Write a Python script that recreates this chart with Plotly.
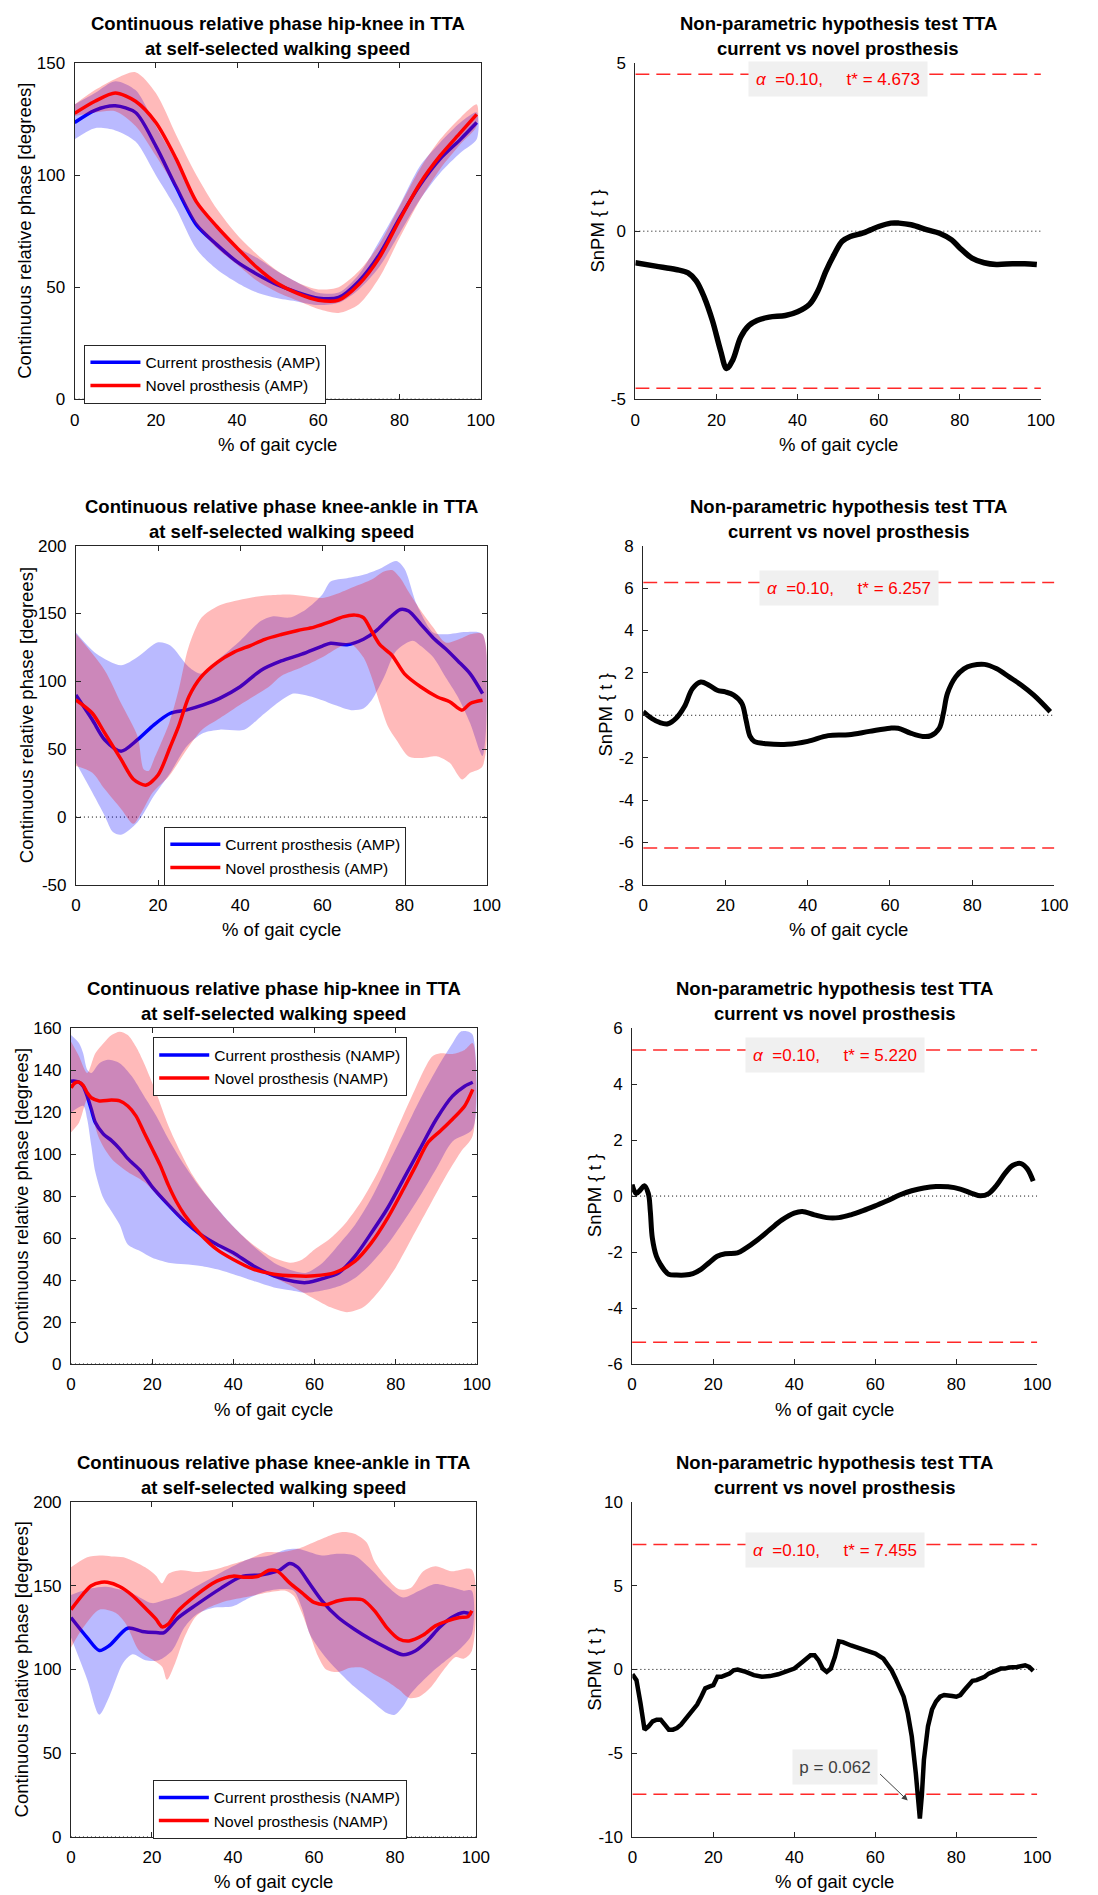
import plotly.graph_objects as go

# ---------------- data ----------------
X_TICKS = [0, 20, 40, 60, 80, 100]

# panel 1: hip-knee CRP, amputated side
P1_X = [0, 5, 10, 15, 20, 25, 30, 35, 40, 45, 50, 55, 60, 65, 70, 75, 80, 85, 90, 95, 99]
P1_CUR = [123.5, 129, 131, 128, 113, 94.7, 77.8, 69, 61.3, 55.7, 51, 47.6, 45.1, 45.4, 52.7, 64.5, 80.7, 95.5, 107.3, 116, 123.5]
P1_NOV = [127.6, 133, 136.7, 133, 123.5, 107.3, 88.1, 77.1, 67.5, 58.6, 51.6, 47.1, 44.2, 44.2, 51.3, 63.1, 80, 96.2, 108.7, 119, 127.2]
P1_CUR_HI = [131.6, 136.7, 142, 138, 122, 106, 88, 77, 68, 63, 57, 52, 47.5, 47.6, 55.7, 70.5, 86.6, 104, 114.6, 123.5, 128]
P1_CUR_LO = [116, 121, 120, 115, 100, 85, 67, 58, 52, 47.5, 45, 43.5, 42, 43, 49, 59, 74, 89, 101, 110, 116]
P1_NOV_HI = [131.6, 138, 143, 146, 136.7, 118, 100, 85, 73.4, 64.5, 57.2, 52, 49, 50, 57.2, 69, 86, 102.8, 116, 125.7, 131.6]
P1_NOV_LO = [126.4, 128, 128.6, 122, 108.7, 94, 77.8, 67.5, 60.1, 52.7, 47.6, 43.9, 40.2, 38.5, 42.4, 54.2, 71.9, 88.8, 102.8, 113.9, 122]
P1_YTICKS = [0, 50, 100, 150]

# panel 2: SnPM hip-knee AMP
P2_X = [0, 5, 10, 13, 15, 17, 19, 21, 22.5, 24, 26, 28, 30, 33, 37, 40, 43, 45, 47, 49, 51, 53, 56, 58, 60,
        63, 65, 68, 72, 75, 78, 80, 83, 86, 89, 93, 96, 99]
P2_T = [-0.94, -1.04, -1.14, -1.24, -1.48, -1.97, -2.66, -3.55, -4.09, -3.84, -3.15, -2.81, -2.66,
        -2.56, -2.51, -2.40, -2.17, -1.78, -1.19, -0.70, -0.30, -0.16, -0.06, 0.04, 0.14,
        0.24, 0.24, 0.19, 0.04, -0.06, -0.26, -0.50, -0.80, -0.94, -0.99, -0.97, -0.97, -0.99]
P2_TSTAR = 4.673
P2_YTICKS = [-5, 0, 5]

# panel 3: knee-ankle CRP, amputated side
P3_CUR_X = [0, 4, 7, 11, 15, 19, 23, 27, 31, 35, 40, 45, 50, 55, 60, 62, 66, 70, 73, 76, 79, 81, 84, 87, 90, 93, 96, 99]
P3_CUR = [90, 71.7, 57, 48.5, 57, 68, 76.5, 79, 82.6, 87.5, 96, 108, 115, 120, 126, 128, 127, 131, 137, 145.7,
          153, 151.8, 142, 132, 124, 115, 105.5, 91]
P3_NOV_X = [0, 4, 7, 11, 14, 17, 20, 23, 25, 27.5, 30.5, 34.5, 38.5, 42.5, 46, 50, 54, 58, 62, 65, 68, 70, 72, 74,
            77, 80, 84, 88, 91, 94, 96, 99]
P3_NOV = [86.3, 76.5, 62, 42.5, 27.9, 23.5, 31, 52, 66.8, 88.7, 103.3, 114.2, 121.5, 126.4, 131, 134.5, 137.5,
          140, 144, 147.5, 148.8, 147, 137, 127, 119, 105.5, 95.8, 88.5, 85, 78.8, 83.7, 86]
P3_CUR_HI_X = [0, 5, 11, 15, 20, 23, 27.5, 30.5, 35, 40, 45, 48, 52, 56, 60, 62, 66, 70, 74, 78, 80, 83, 87, 90, 95, 99]
P3_CUR_HI = [136, 120.3, 111.8, 117.9, 128.8, 126.4, 110.6, 105.7, 117, 130, 144.5, 148, 147, 153, 164, 173.6,
             176, 178.5, 183, 188.7, 183, 156.6, 136, 134.7, 136.4, 134.7]
P3_CUR_LO_X = [0, 4, 7, 9, 11, 15, 19, 23, 27, 31, 35, 41, 45, 50, 53, 56, 60, 63, 67, 70, 72, 75, 78, 82, 84, 87,
               90, 93, 96, 99]
P3_CUR_LO = [40, 18.1, 1, -11, -13, -3.8, 15.7, 32.7, 52.2, 61.9, 64.4, 64.4, 74, 86, 91, 89.7, 86, 82.5, 78.8,
             80, 86, 103, 122.6, 130, 126, 117.7, 103, 88.5, 69, 45]
P3_NOV_HI_X = [0, 7, 11, 15, 16.5, 17.7, 19, 22.7, 25, 27.4, 30.6, 34.6, 38.6, 42.5, 47, 52, 56, 60, 64, 68, 72,
               75, 77, 79, 81, 84, 87, 90, 94, 96, 99]
P3_NOV_HI = [135, 108.2, 83.8, 59.5, 35.2, 34, 42.5, 69.2, 93.6, 125, 147, 155.6, 159.2, 161.7, 163.4, 164,
             162.7, 161.5, 165, 170, 175, 181, 182, 176, 166, 152, 139.6, 128.6, 132, 134.7, 134.7]
P3_NOV_LO_X = [0, 4, 7, 11, 14, 16, 18.7, 22.7, 27, 30.6, 34.6, 38.6, 42.5, 47, 50, 55, 60, 64, 67, 70, 72, 74,
               76, 78, 81, 84, 88, 91, 94, 96, 99]
P3_NOV_LO = [37.6, 32.7, 20.6, 6, -5, 3.5, 18.1, 30.3, 49.8, 64, 72, 80, 87.5, 96, 104, 110.4, 117.7, 125,
             127.4, 117.7, 103, 83.7, 66.6, 57, 44.7, 43.5, 44.7, 40, 27.7, 32.6, 37.5]
P3_YTICKS = [-50, 0, 50, 100, 150, 200]

# panel 4: SnPM knee-ankle AMP
P4_X = [0, 2, 4, 6, 8, 10, 12, 14, 16, 18, 20, 22, 24, 25, 26, 27, 30, 35, 40, 45, 50, 55, 60, 62, 65, 68,
        70, 72, 73, 74, 76, 78, 80, 83, 86, 89, 92, 95, 99]
P4_T = [0.17, -0.14, -0.34, -0.40, -0.14, 0.40, 1.26, 1.57, 1.42, 1.18, 1.10, 0.95, 0.56, -0.22, -1.0, -1.23,
        -1.34, -1.37, -1.23, -0.96, -0.92, -0.76, -0.61, -0.61, -0.84, -1.0, -0.96, -0.61,
        0.09, 1.03, 1.81, 2.19, 2.35, 2.40, 2.19, 1.81, 1.42, 0.95, 0.17]
P4_TSTAR = 6.257
P4_YTICKS = [-8, -6, -4, -2, 0, 2, 4, 6, 8]

# panel 5: hip-knee CRP, non-amputated side
P5_CUR_X = [0, 1, 2, 3, 4, 5, 6, 8, 10, 12, 14, 17, 20, 24, 28, 32, 36, 40, 45, 50, 55, 58, 62, 66, 70, 74,
            78, 82, 86, 90, 94, 97, 99]
P5_CUR = [134.7, 134.7, 134.2, 132.3, 127.6, 121.3, 115, 109.5, 106.4, 102.5, 97.8, 92.3, 84.4, 75.8, 67.9,
          61.6, 56.9, 53, 46.7, 42, 39.3, 38.8, 40.7, 43.5, 51.4, 62.4, 74.2, 88.3, 102.5, 116.6, 127.6, 132.3, 134.2]
P5_NOV_X = [0, 1, 2, 3, 4, 5, 7, 10, 12, 14, 16, 18, 20, 22, 24, 26, 28, 32, 36, 40, 45, 50, 55, 60, 65, 70,
            74, 78, 82, 85, 88, 91, 94, 97, 99]
P5_NOV = [131.5, 133.9, 134.2, 132.7, 129.2, 126.8, 125.3, 125.7, 125.3, 122.9, 118.2, 110.3, 102.5, 94.6,
          85.2, 77.3, 71, 61.6, 54.5, 49.8, 45.1, 42.8, 42, 42, 43.5, 49, 57.7, 69.5, 83.6, 94.6, 105.6, 111,
          116.6, 122.9, 130.8]
P5_CUR_HI_X = [0, 2, 3, 4, 5, 7, 9, 12, 15, 18, 21, 24, 28, 32, 36, 40, 45, 50, 55, 58, 62, 66, 70, 74, 78, 82,
               86, 90, 94, 96, 98, 99]
P5_CUR_HI = [156.7, 152.8, 148, 140.2, 138.6, 143.3, 144.9, 143.3, 137, 127.6, 118.2, 107.2, 94.6, 83.6, 74.2,
             65.5, 56.1, 48.3, 44.3, 43.5, 48.3, 56.9, 66.3, 78.9, 94.6, 110.3, 126, 140.2, 152.8, 158.3, 158.3, 156.7]
P5_CUR_LO_X = [0, 3, 4, 5, 6, 8, 10, 12, 14, 17, 20, 24, 28, 32, 36, 40, 45, 50, 54, 58, 62, 66, 70, 74, 78, 82,
               86, 90, 94, 99]
P5_CUR_LO = [119.8, 123, 116.6, 104, 91.5, 78.9, 72.6, 66.3, 56.9, 53.8, 50.6, 48.3, 47.5, 46.7, 45.1, 42.8,
             39.6, 36.5, 35.2, 34, 35, 37, 41, 48, 57, 68, 80, 93, 106, 112]
P5_NOV_HI_X = [0, 2, 4, 6, 8, 10, 12, 14, 16, 18, 21, 24, 27, 30, 34, 38, 42, 46, 50, 54, 57, 60, 64, 68, 72,
               76, 80, 84, 87, 89, 91, 94, 97, 99]
P5_NOV_HI = [153.6, 146.5, 138.6, 148, 152.8, 156.7, 158.3, 156.7, 151.2, 143.3, 129.2, 113.5, 100.9, 89.9,
             78.9, 69.5, 61.6, 55.3, 50.6, 48.3, 49.8, 54.5, 60, 67.9, 78.9, 93, 110.3, 127.6, 140.2, 146.5,
             148, 147.7, 149.6, 152.8]
P5_NOV_LO_X = [0, 2, 4, 5, 7, 10, 14, 18, 22, 26, 30, 34, 38, 42, 46, 50, 55, 60, 64, 68, 72, 76, 80, 84, 88,
               92, 96, 99]
P5_NOV_LO = [110.3, 115, 126, 119.8, 107.2, 97.8, 91.5, 86.8, 78.9, 71, 64, 58.5, 53.8, 48.9, 45.1, 41.2,
             36.5, 31, 27, 24.7, 27, 34.9, 45.9, 60, 74.2, 88.3, 100.9, 108.8]
P5_YTICKS = [0, 20, 40, 60, 80, 100, 120, 140, 160]

# panel 6: SnPM hip-knee NAMP
P6_X = [0, 1, 2, 3, 4, 4.5, 5, 6, 7, 8, 9, 11, 13, 15, 17, 19, 21, 23, 26, 28, 31, 34, 37, 40, 42,
        45, 48, 51, 54, 57, 60, 63, 66, 69, 72, 75, 78, 81, 84, 86, 88, 90, 92, 94, 96, 97.5, 99]
P6_T = [0.41, 0.09, 0.21, 0.37, 0.09, -0.55, -1.50, -2.15, -2.44, -2.65, -2.79, -2.82, -2.82, -2.77, -2.62,
        -2.38, -2.15, -2.06, -2.03, -1.87, -1.56, -1.20, -0.85, -0.61, -0.55, -0.67, -0.77, -0.77, -0.67,
        -0.52, -0.35, -0.17, 0.04, 0.19, 0.29, 0.34, 0.33, 0.25, 0.09, 0.01, 0.09, 0.39, 0.80, 1.10, 1.16,
        0.98, 0.53]
P6_TSTAR = 5.220
P6_YTICKS = [-6, -4, -2, 0, 2, 4, 6]

# panel 7: knee-ankle CRP, non-amputated side
P7_CUR_X = [0, 4, 7, 9.5, 14, 17.6, 21, 23, 26.5, 31, 37, 42, 47.5, 51.5, 54, 56, 59, 62, 66, 70, 74, 78, 82,
            85, 88, 91, 94, 97, 99]
P7_CUR = [131, 119, 111.3, 114.3, 124.6, 122.7, 122, 122, 130.9, 138.7, 148.4, 155.3, 156.6, 159.2, 163.3,
          161, 151, 141, 131, 124, 118, 112.9, 108.8, 111, 117, 125, 131, 134, 133]
P7_NOV_X = [0, 3, 5, 7.5, 9, 12, 15, 19, 21, 22.5, 24, 26, 31, 36, 40, 43, 46, 49, 51, 54, 57, 60, 63, 66, 69,
            72, 75, 78, 81, 83.5, 87, 90, 93, 96, 98, 99]
P7_NOV = [135.7, 145, 150, 152, 152, 149.5, 144.5, 135, 130, 125.4, 127, 133.8, 144.5, 152.7, 155.7, 155,
          155.5, 159.2, 158.6, 151.7, 145.8, 140, 138.7, 141, 142, 141.6, 135, 125, 118.2, 117, 120.5, 126,
          129, 131, 131.4, 135]
P7_CUR_HI_X = [0, 5, 8.7, 15, 20, 23.3, 27, 33, 39.5, 44, 49, 53, 56, 59, 62, 66, 70, 74, 78, 82, 86, 90, 94, 97, 99]
P7_CUR_HI = [144.5, 148.4, 149.4, 145.5, 139.6, 141.6, 144.5, 152.3, 161, 166, 168, 171.5, 172, 170, 168, 169,
             168, 160, 150, 143, 147, 151, 149, 147, 147]
P7_CUR_LO_X = [0, 4, 7, 9.5, 12.8, 15.2, 18.4, 21.7, 25, 28, 31, 35, 40, 44, 48, 52, 55, 57, 59, 62, 65, 70, 74,
               78, 80, 82, 84, 89, 93, 96, 99]
P7_CUR_LO = [119, 94, 73, 84, 103.5, 109, 105.5, 105.5, 111.3, 125, 132.8, 136.7, 137.7, 142.6, 146.5, 148, 147,
             137, 121, 110, 101.5, 89.6, 81.7, 73.9, 72.9, 77.8, 85.7, 98, 106, 112, 121]
P7_NOV_HI_X = [0, 4, 7, 10, 13, 16, 19, 21, 22.5, 24, 27, 31, 36, 40, 44, 48, 52, 56, 60, 64, 67, 70, 73, 75, 78,
               81, 84, 87, 90, 94, 99]
P7_NOV_HI = [161, 167, 168, 167.5, 167, 164, 160, 156, 151.4, 157, 159.2, 158.2, 160, 163, 166, 170, 170, 172,
             176, 180, 182, 181, 176, 164.5, 154.7, 147.8, 148.8, 158.6, 161.6, 158.6, 159.6]
P7_NOV_LO_X = [0, 3, 7, 11, 13.6, 16.8, 20, 22.5, 23.7, 25.7, 28, 30.6, 33, 37.9, 44, 50, 53, 55, 57, 59, 61, 63,
               66, 69, 72, 75, 78, 81, 83.5, 86, 89, 92, 95, 97, 99]
P7_NOV_LO = [113, 125, 135.7, 133.8, 127, 111.3, 106, 101.6, 93.8, 103.5, 119, 130.9, 135.7, 140.6, 143.6,
             146.5, 147, 144, 134, 121, 108, 100, 98.5, 101, 101, 97, 93, 88, 83, 83.7, 89.7, 99.5, 107.4,
             106.4, 111]
P7_YTICKS = [0, 50, 100, 150, 200]

# panel 8: SnPM knee-ankle NAMP
P8_X = [0, 1, 2, 3, 4, 5, 6, 7, 8, 9, 10, 11, 12, 13, 14, 15, 16, 17, 18, 19, 20, 21, 22, 23, 24, 25, 26,
        28, 30, 32, 34, 36, 38, 40, 42, 43, 44, 45, 46, 47, 48, 49, 50, 51, 52, 54, 56, 58, 60, 62,
        63, 64, 65, 66, 67, 68, 69, 70, 70.5, 71, 71.5, 72, 73, 74, 75, 76, 77, 78, 79, 80, 81, 82, 83,
        84, 85, 86, 87, 88, 89, 90, 91, 92, 93, 95, 96, 97, 98, 99]
P8_T = [-0.29, -0.64, -2.02, -3.6, -3.4, -3.1, -3.0, -3.0, -3.3, -3.6, -3.6, -3.5, -3.3, -3.0, -2.7, -2.5,
        -2.1, -1.63, -1.13, -1.03, -0.94, -0.44, -0.44, -0.34, -0.25, -0.05, -0.01,
        -0.15, -0.34, -0.44, -0.40, -0.29, -0.15, 0.05,
        0.44, 0.64, 0.84, 0.84, 0.54, 0.05, -0.15, 0.05, 0.74, 1.68, 1.63,
        1.43, 1.27, 1.09, 0.94, 0.64,
        0.34, -0.05, -0.54, -1.03, -1.63, -2.6, -4.0, -6.2,
        -7.9, -8.9, -7.5, -5.4,
        -3.4, -2.4, -1.92, -1.63, -1.53, -1.53, -1.59, -1.63, -1.53, -1.23, -0.94, -0.68, -0.64, -0.54,
        -0.44, -0.25, -0.15, -0.05, 0.05, 0.05, 0.11,
        0.15, 0.19, 0.25, 0.15, -0.09]
P8_TSTAR = 7.455
P8_PVALUE = 0.062
P8_YTICKS = [-10, -5, 0, 5, 10]

ALPHA = 0.10

# ---------------- style ----------------
W, H = 1098, 1895
FONT = "Liberation Sans, Arial, Helvetica, sans-serif"
AXIS_COLOR = "#262626"
BLUE = "rgb(0,0,255)"
RED = "rgb(255,0,0)"
BLUE_FILL = "rgba(0,0,255,0.27)"
RED_FILL = "rgba(255,0,0,0.27)"
TICK_SIZE = 17
LABEL_SIZE = 18.5
TITLE_SIZE = 18.5

# axes boxes in pixels: left, right, top, bottom
BOXES = {
    1: (62.7, 476, 46.7, 386),
    2: (633.3, 1046, 46.7, 386),
    3: (64, 482, 534, 876.7),
    4: (641.3, 1059.7, 534, 876.7),
    5: (59, 472, 1021.3, 1360.7),
    6: (630, 1042.3, 1021.3, 1360.7),
    7: (59, 471, 1500, 1838.3),
    8: (630.3, 1042.3, 1500, 1838.3),
}

TITLE_HIP = ("Continuous relative phase hip-knee in TTA", "at self-selected walking speed")
TITLE_KNEE = ("Continuous relative phase knee-ankle in TTA", "at self-selected walking speed")
TITLE_SPM = ("Non-parametric hypothesis test TTA", "current vs novel prosthesis")

fig = go.Figure()
annotations = []


def sfx(n):
    return "" if n == 1 else str(n)


def setup_axes(n, yrange, yticks, boxed):
    left, right, top, bottom = BOXES[n]
    common = dict(
        showline=True, linecolor=AXIS_COLOR, linewidth=1,
        ticks="inside", ticklen=5, tickcolor=AXIS_COLOR,
        mirror="ticks" if boxed else False,
        showgrid=False, zeroline=False,
        tickfont=dict(size=TICK_SIZE, color="black", family=FONT),
    )
    fig.update_layout(**{
        "xaxis" + sfx(n): dict(
            domain=[left / W, right / W], anchor="y" + sfx(n), range=[0, 100],
            tickvals=X_TICKS, ticktext=[str(v) for v in X_TICKS], ticklabelstandoff=5, **common),
        "yaxis" + sfx(n): dict(
            domain=[1 - bottom / H, 1 - top / H], anchor="x" + sfx(n), range=[yrange[0], yrange[1]],
            tickvals=yticks, ticktext=[str(v) for v in yticks], ticklabelstandoff=5, **common),
    })
    annotations.append(dict(
        text="% of gait cycle", xref="paper", yref="paper", x=(left + right) / 2 / W, y=1 - bottom / H,
        xanchor="center", yanchor="middle", yshift=-45, showarrow=False,
        font=dict(size=LABEL_SIZE, color="black", family=FONT)))


def add_titles(n, lines, ytitle, ytitle_shift):
    left, right, top, bottom = BOXES[n]
    cx = (left + right) / 2 / W
    for text, shift in zip(lines, (39.5, 14.5)):
        annotations.append(dict(
            text="<b>" + text + "</b>", xref="paper", yref="paper", x=cx, y=1 - top / H,
            xanchor="center", yanchor="middle", yshift=shift, showarrow=False,
            font=dict(size=TITLE_SIZE, color="black", family=FONT)))
    annotations.append(dict(
        text=ytitle, xref="paper", yref="paper", x=left / W, y=1 - (top + bottom) / 2 / H,
        xanchor="center", yanchor="middle", xshift=-ytitle_shift, textangle=-90, showarrow=False,
        font=dict(size=LABEL_SIZE, color="black", family=FONT)))


def add_ref_line(n, yval, color, dash, width):
    fig.add_trace(go.Scatter(
        x=[0, 100], y=[yval, yval], mode="lines", xaxis="x" + sfx(n), yaxis="y" + sfx(n),
        line=dict(color=color, dash=dash, width=width), showlegend=False, hoverinfo="skip"))


def add_band(n, xu, yu, xl, yl, color):
    fig.add_trace(go.Scatter(
        x=list(xu) + list(xl)[::-1], y=list(yu) + list(yl)[::-1],
        mode="lines", fill="toself", fillcolor=color, line=dict(width=0, shape="spline", smoothing=0.8),
        xaxis="x" + sfx(n), yaxis="y" + sfx(n), showlegend=False, hoverinfo="skip"))


def add_mean(n, x, y, color, name, legend):
    fig.add_trace(go.Scatter(
        x=x, y=y, mode="lines", name=name, legend=legend,
        line=dict(color=color, width=3.5, shape="spline", smoothing=0.8),
        xaxis="x" + sfx(n), yaxis="y" + sfx(n)))


def crp_panel(n, lines, yrange, yticks, cur, nov, legend, group):
    setup_axes(n, yrange, yticks, True)
    add_titles(n, lines, "Continuous relative phase [degrees]", 50)
    add_ref_line(n, 0, "black", "1px,3px", 1)
    cx, cy, cxh, cyh, cxl, cyl = cur
    nx, ny, nxh, nyh, nxl, nyl = nov
    add_band(n, cxh, cyh, cxl, cyl, BLUE_FILL)
    add_mean(n, cx, cy, BLUE, "Current prosthesis (%s)" % group, legend)
    add_band(n, nxh, nyh, nxl, nyl, RED_FILL)
    add_mean(n, nx, ny, RED, "Novel prosthesis (%s)" % group, legend)


def spm_panel(n, x, t, tstar, yrange, yticks, shape, width):
    setup_axes(n, yrange, yticks, False)
    add_titles(n, TITLE_SPM, "SnPM { t }", 38)
    add_ref_line(n, 0, "black", "1px,3px", 1)
    add_ref_line(n, tstar, "rgb(255,40,40)", "14px,7px", 1.5)
    add_ref_line(n, -tstar, "rgb(255,40,40)", "14px,7px", 1.5)
    fig.add_trace(go.Scatter(
        x=x, y=t, mode="lines", line=dict(color="black", width=width, shape=shape),
        xaxis="x" + sfx(n), yaxis="y" + sfx(n), showlegend=False))
    label = "<i>\u03b1</i>\u00a0\u00a0=%.2f,\u00a0\u00a0\u00a0\u00a0\u00a0t* = %.3f" % (ALPHA, tstar)
    annotations.append(dict(
        text=label, xref="x" + sfx(n), yref="y" + sfx(n), x=50, y=tstar, yshift=-5,
        xanchor="center", yanchor="middle", showarrow=False, bgcolor="#f0f0f0",
        width=176, height=32, font=dict(size=17, color="red", family=FONT)))


crp_panel(1, TITLE_HIP, (0, 150), P1_YTICKS,
          (P1_X, P1_CUR, P1_X, P1_CUR_HI, P1_X, P1_CUR_LO),
          (P1_X, P1_NOV, P1_X, P1_NOV_HI, P1_X, P1_NOV_LO), "legend", "AMP")
spm_panel(2, P2_X, P2_T, P2_TSTAR, (-5, 5), P2_YTICKS, "spline", 5.5)

crp_panel(3, TITLE_KNEE, (-50, 200), P3_YTICKS,
          (P3_CUR_X, P3_CUR, P3_CUR_HI_X, P3_CUR_HI, P3_CUR_LO_X, P3_CUR_LO),
          (P3_NOV_X, P3_NOV, P3_NOV_HI_X, P3_NOV_HI, P3_NOV_LO_X, P3_NOV_LO), "legend2", "AMP")
spm_panel(4, P4_X, P4_T, P4_TSTAR, (-8, 8), P4_YTICKS, "spline", 5)

crp_panel(5, TITLE_HIP, (0, 160), P5_YTICKS,
          (P5_CUR_X, P5_CUR, P5_CUR_HI_X, P5_CUR_HI, P5_CUR_LO_X, P5_CUR_LO),
          (P5_NOV_X, P5_NOV, P5_NOV_HI_X, P5_NOV_HI, P5_NOV_LO_X, P5_NOV_LO), "legend3", "NAMP")
spm_panel(6, P6_X, P6_T, P6_TSTAR, (-6, 6), P6_YTICKS, "spline", 5)

crp_panel(7, TITLE_KNEE, (0, 200), P7_YTICKS,
          (P7_CUR_X, P7_CUR, P7_CUR_HI_X, P7_CUR_HI, P7_CUR_LO_X, P7_CUR_LO),
          (P7_NOV_X, P7_NOV, P7_NOV_HI_X, P7_NOV_HI, P7_NOV_LO_X, P7_NOV_LO), "legend4", "NAMP")
spm_panel(8, P8_X, P8_T, P8_TSTAR, (-10, 10), P8_YTICKS, "linear", 4.5)

# p-value callout on the last SnPM panel
annotations.append(dict(
    text="p = %.3f" % P8_PVALUE, xref="x8", yref="y8", x=50, y=-5.81,
    xanchor="center", yanchor="middle", showarrow=False, bgcolor="#f0f0f0",
    width=82, height=32, font=dict(size=17, color="#404040", family=FONT)))
annotations.append(dict(
    text="", xref="x8", yref="y8", x=68.0, y=-7.83, axref="x8", ayref="y8", ax=60.8, ay=-6.16,
    showarrow=True, arrowhead=2, arrowsize=1.2, arrowwidth=1, arrowcolor="#404040", standoff=0))

legend_style = dict(
    bgcolor="white", bordercolor=AXIS_COLOR, borderwidth=1, xanchor="left", yanchor="top",
    font=dict(size=15.5, color="black", family=FONT), tracegroupgap=0, itemwidth=50)
fig.update_layout(
    width=W, height=H, margin=dict(l=0, r=0, t=0, b=0),
    paper_bgcolor="white", plot_bgcolor="white",
    font=dict(family=FONT, size=16, color="black"),
    annotations=annotations,
    legend=dict(x=72.7 / W, y=1 - 331 / H, **legend_style),
    legend2=dict(x=154 / W, y=1 - 818 / H, **legend_style),
    legend3=dict(x=142.7 / W, y=1 - 1030.7 / H, **legend_style),
    legend4=dict(x=142.3 / W, y=1 - 1780.7 / H, **legend_style),
)

fig.write_html("out.html")
